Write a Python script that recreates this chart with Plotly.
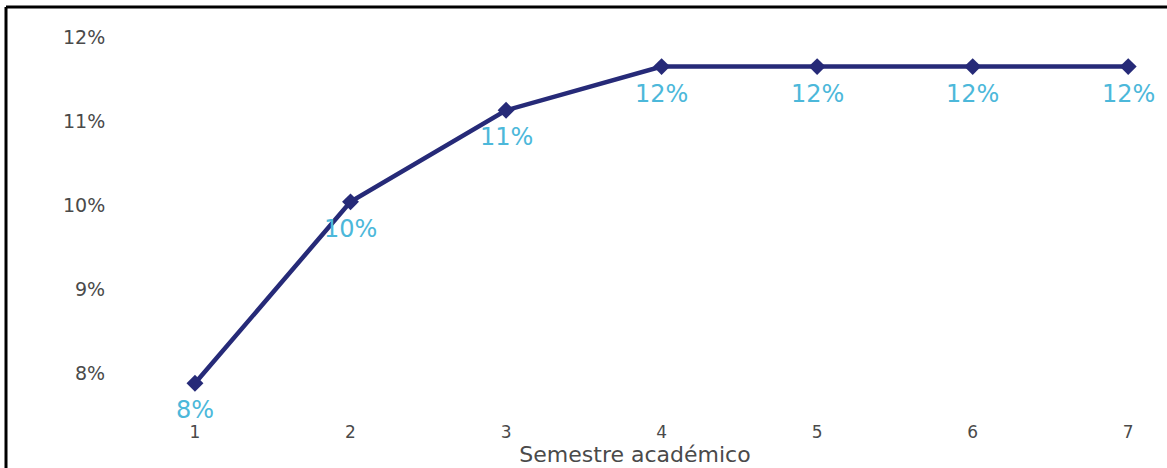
import plotly.graph_objects as go

# Semestre académico vs. porcentaje acumulado
semestres = [1, 2, 3, 4, 5, 6, 7]
porcentaje = [7.88, 10.04, 11.13, 11.65, 11.65, 11.65, 11.65]
etiquetas = ["8%", "10%", "11%", "12%", "12%", "12%", "12%"]
y_ticks = [8, 9, 10, 11, 12]
y_tick_text = ["8%", "9%", "10%", "11%", "12%"]

W, H = 1167, 468
M_L, M_R, M_T, M_B = 120, 17, 33, 78
plot_w = W - M_L - M_R
plot_h = H - M_T - M_B

NAVY = "#262a78"
CYAN = "#4cb8da"
GREY = "#4a4a4a"
FONT = "DejaVu Sans, sans-serif"

fig = go.Figure()
fig.add_trace(go.Scatter(
    x=semestres,
    y=porcentaje,
    mode="lines+markers",
    line=dict(color=NAVY, width=4.5),
    marker=dict(symbol="diamond", size=13, color=NAVY),
    cliponaxis=False,
    hoverinfo="x+y",
))

# value labels placed under each point
for xv, yv, txt in zip(semestres, porcentaje, etiquetas):
    fig.add_annotation(
        x=xv, y=yv, text=txt, showarrow=False,
        yshift=-27, xanchor="center", yanchor="middle",
        borderpad=0,
        font=dict(family=FONT, size=24, color=CYAN),
    )


def px_x(px):
    return (px - M_L) / plot_w


def px_y(py):
    return (H - M_B - py) / plot_h


# frame lines along the top and left edges of the page
fig.add_shape(type="line", xref="paper", yref="paper",
              x0=px_x(6), x1=px_x(W + 5), y0=px_y(7), y1=px_y(7),
              line=dict(color="black", width=3))
fig.add_shape(type="line", xref="paper", yref="paper",
              x0=px_x(6), x1=px_x(6), y0=px_y(7), y1=px_y(H + 5),
              line=dict(color="black", width=3))

fig.update_layout(
    width=W,
    height=H,
    margin=dict(l=M_L, r=M_R, t=M_T, b=M_B),
    paper_bgcolor="white",
    plot_bgcolor="white",
    showlegend=False,
    font=dict(family=FONT, color=GREY),
    xaxis=dict(
        range=[0.518, 7.14],
        tickvals=semestres,
        showgrid=False,
        zeroline=False,
        showline=False,
        automargin=False,
        ticks="outside",
        ticklen=27,
        tickcolor="rgba(0,0,0,0)",
        tickfont=dict(family=FONT, size=17, color=GREY),
        title=dict(text="Semestre académico", font=dict(family=FONT, size=22, color=GREY), standoff=2),
    ),
    yaxis=dict(
        range=[7.8, 12.05],
        tickvals=y_ticks,
        ticktext=y_tick_text,
        showgrid=False,
        zeroline=False,
        showline=False,
        automargin=False,
        ticks="outside",
        ticklen=10,
        tickcolor="rgba(0,0,0,0)",
        tickfont=dict(family=FONT, size=19, color=GREY),
    ),
)

fig.write_html("out.html")
